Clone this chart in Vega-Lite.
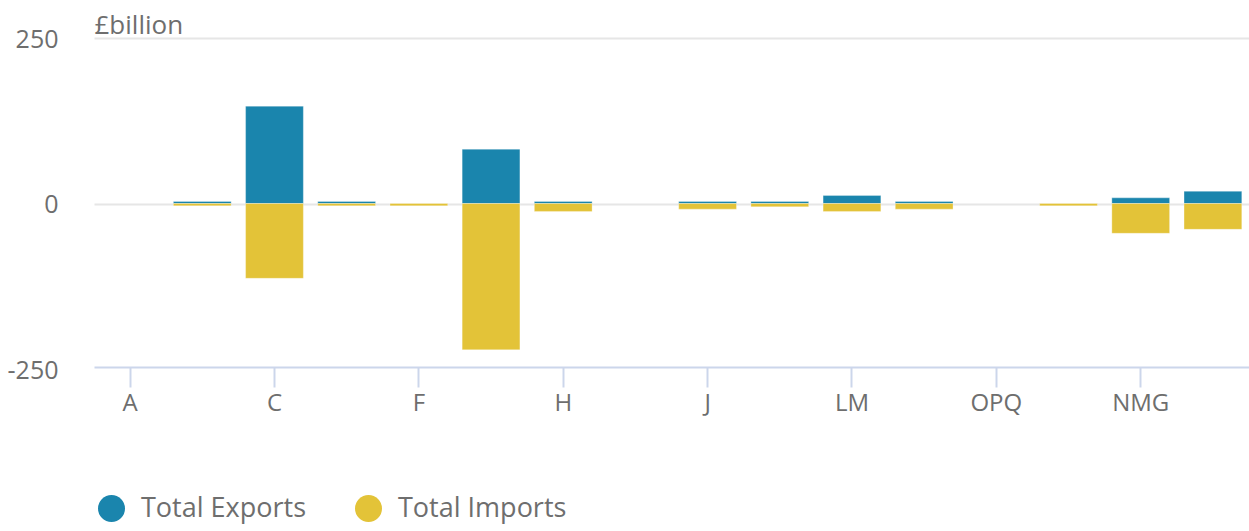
{
  "$schema": "https://vega.github.io/schema/vega-lite/v6.json",
  "autosize": {"type": "none"},
  "padding": {"left": 94, "top": 38, "right": 0, "bottom": 162},
  "width": 1155,
  "height": 331,
  "background": "white",
  "data": {
    "values": [
      {"industry": "B", "flow": "Total Exports", "value": 3},
      {"industry": "B", "flow": "Total Imports", "value": -3.5},
      {"industry": "C", "flow": "Total Exports", "value": 147},
      {"industry": "C", "flow": "Total Imports", "value": -113},
      {"industry": "DE", "flow": "Total Exports", "value": 3},
      {"industry": "DE", "flow": "Total Imports", "value": -3.5},
      {"industry": "F", "flow": "Total Imports", "value": -3.5},
      {"industry": "G", "flow": "Total Exports", "value": 82},
      {"industry": "G", "flow": "Total Imports", "value": -221},
      {"industry": "H", "flow": "Total Exports", "value": 3},
      {"industry": "H", "flow": "Total Imports", "value": -12},
      {"industry": "J", "flow": "Total Exports", "value": 3},
      {"industry": "J", "flow": "Total Imports", "value": -8.5},
      {"industry": "K", "flow": "Total Exports", "value": 3},
      {"industry": "K", "flow": "Total Imports", "value": -5},
      {"industry": "LM", "flow": "Total Exports", "value": 12},
      {"industry": "LM", "flow": "Total Imports", "value": -12},
      {"industry": "N", "flow": "Total Exports", "value": 3},
      {"industry": "N", "flow": "Total Imports", "value": -8.5},
      {"industry": "RSTU", "flow": "Total Imports", "value": -3.5},
      {"industry": "NMG", "flow": "Total Exports", "value": 8.5},
      {"industry": "NMG", "flow": "Total Imports", "value": -45},
      {"industry": "Unknown", "flow": "Total Exports", "value": 18.5},
      {"industry": "Unknown", "flow": "Total Imports", "value": -39}
    ]
  },
  "mark": {"type": "bar", "stroke": "white", "strokeWidth": 1, "strokeOpacity": 0.3},
  "encoding": {
    "x": {
      "field": "industry",
      "type": "nominal",
      "sort": null,
      "scale": {
        "domain": ["A", "B", "C", "DE", "F", "G", "H", "I", "J", "K", "LM", "N", "OPQ", "RSTU", "NMG", "Unknown"],
        "paddingInner": 0.2,
        "paddingOuter": 0.1
      },
      "axis": {
        "values": ["A", "C", "F", "H", "J", "LM", "OPQ", "NMG"],
        "title": null,
        "offset": -2,
        "labelAngle": 0,
        "labelFont": "Open Sans",
        "labelFontSize": 24,
        "labelColor": "#6e6e6e",
        "labelPadding": 4,
        "domainColor": "#ccd6eb",
        "domainWidth": 2,
        "tickColor": "#ccd6eb",
        "tickWidth": 2,
        "tickSize": 20,
        "grid": false
      }
    },
    "y": {
      "field": "value",
      "type": "quantitative",
      "stack": null,
      "scale": {"domain": [-250, 250], "nice": false},
      "axis": {
        "values": [-250, 0, 250],
        "labelExpr": "'' + datum.value",
        "title": "£billion",
        "titleAngle": 0,
        "titleX": 0,
        "titleY": -5,
        "titleAlign": "left",
        "titleBaseline": "alphabetic",
        "titleFont": "Open Sans",
        "titleFontSize": 26,
        "titleFontWeight": "normal",
        "titleColor": "#6e6e6e",
        "labelFont": "Open Sans",
        "labelFontSize": 25,
        "labelColor": "#6e6e6e",
        "labelPadding": 36,
        "labelOffset": 1,
        "ticks": false,
        "tickSize": 0,
        "domain": false,
        "grid": true,
        "gridColor": {"condition": {"test": "datum.value === -250", "value": "transparent"}, "value": "#e6e6e6"},
        "gridWidth": 2
      }
    },
    "color": {
      "field": "flow",
      "type": "nominal",
      "scale": {"domain": ["Total Exports", "Total Imports"], "range": ["#1a85ad", "#e3c338"]},
      "legend": {
        "title": null,
        "orient": "none",
        "direction": "horizontal",
        "legendX": 4,
        "legendY": 457,
        "padding": 0,
        "symbolType": "circle",
        "symbolSize": 729,
        "symbolStrokeWidth": 0,
        "symbolOpacity": 1,
        "labelFont": "Open Sans",
        "labelFontSize": 27,
        "labelColor": "#6e6e6e",
        "labelOffset": 16,
        "columnPadding": 49,
        "labelLimit": 400
      }
    }
  },
  "config": {
    "view": {"stroke": null},
    "font": "Open Sans"
  }
}
